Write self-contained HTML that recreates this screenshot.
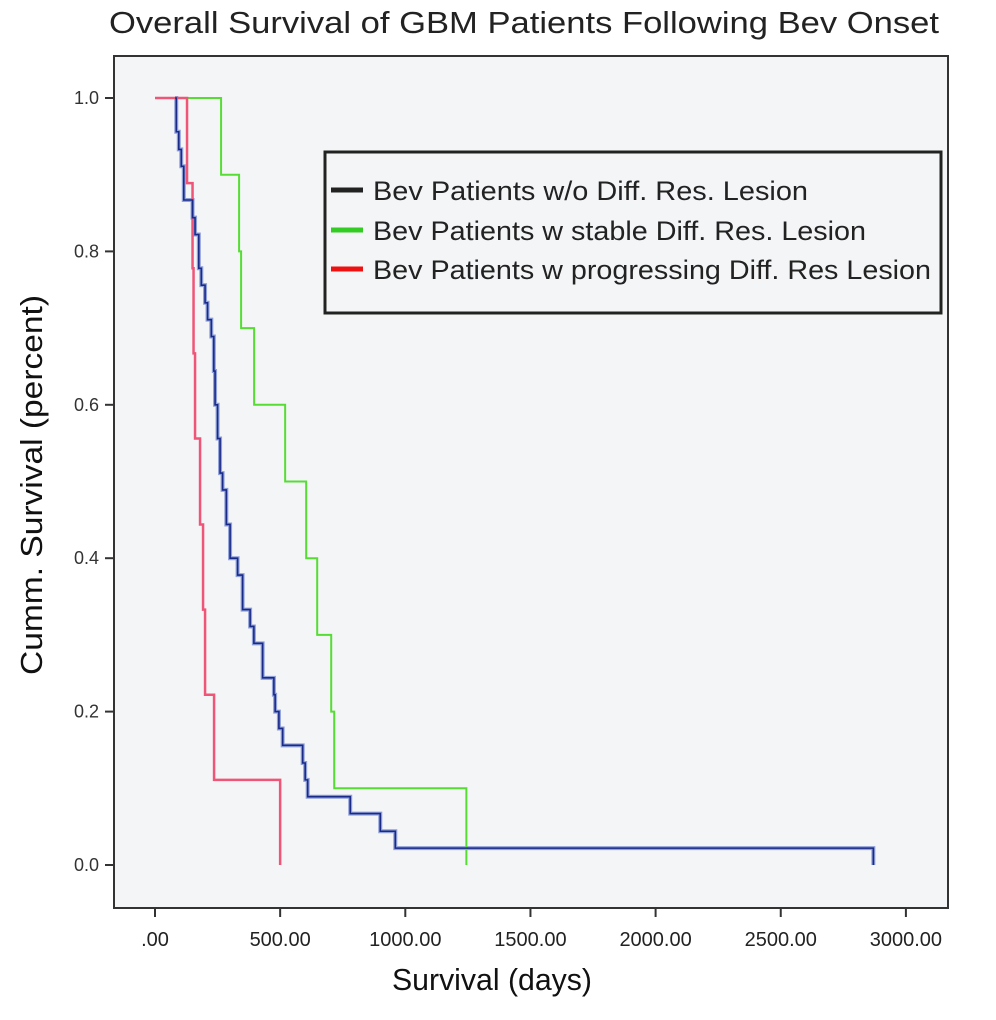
<!DOCTYPE html>
<html><head><meta charset="utf-8"><style>
body{margin:0;background:#fff}
svg{display:block;font-family:"Liberation Sans Narrow","Liberation Sans",sans-serif}
</style></head><body>
<svg id="chart" width="996" height="1020" viewBox="0 0 996 1020">
<text x="524" y="33" font-size="31" text-anchor="middle" fill="#222" textLength="830" lengthAdjust="spacingAndGlyphs">Overall Survival of GBM Patients Following Bev Onset</text>
<rect x="114" y="56" width="834" height="852" fill="#f4f5f7" stroke="#333" stroke-width="2"/>
<g id="yticks"></g><g id="xticks"></g>
<g id="series"></g>
<text transform="translate(42,485) rotate(-90)" font-size="31" text-anchor="middle" fill="#111" textLength="380" lengthAdjust="spacingAndGlyphs">Cumm. Survival (percent)</text>
<text x="492" y="990" font-size="31" text-anchor="middle" fill="#111" textLength="200" lengthAdjust="spacingAndGlyphs">Survival (days)</text>
<g>
<rect x="325" y="152" width="616" height="161" fill="#f4f5f7" stroke="#222" stroke-width="3"/>
<line x1="331" y1="190" x2="363" y2="190" stroke="#222" stroke-width="5"/>
<text x="373" y="200" font-size="27" fill="#222" textLength="435" lengthAdjust="spacingAndGlyphs">Bev Patients w/o Diff. Res. Lesion</text>
<line x1="331" y1="230" x2="363" y2="230" stroke="#33cc22" stroke-width="5"/>
<text x="373" y="240" font-size="27" fill="#222" textLength="493" lengthAdjust="spacingAndGlyphs">Bev Patients w stable Diff. Res. Lesion</text>
<line x1="331" y1="269" x2="363" y2="269" stroke="#ee1111" stroke-width="5"/>
<text x="373" y="279" font-size="27" fill="#222" textLength="558" lengthAdjust="spacingAndGlyphs">Bev Patients w progressing Diff. Res Lesion</text>
</g>
</svg>
<script>
const xTicks=[0,500,1000,1500,2000,2500,3000];
const xTickLabels=[".00","500.00","1000.00","1500.00","2000.00","2500.00","3000.00"];
const yTicks=[0,0.2,0.4,0.6,0.8,1.0];
const yTickLabels=["0.0","0.2","0.4","0.6","0.8","1.0"];
const blueStart=80;
const blueTimes=[85,95,105,115,150,160,175,185,200,210,225,235,240,250,260,270,285,300,330,350,380,395,430,475,480,495,510,590,600,610,780,900,960,2870];
const blueSurv=[0.956,0.933,0.911,0.867,0.844,0.822,0.778,0.756,0.733,0.711,0.689,0.644,0.6,0.556,0.511,0.489,0.444,0.4,0.378,0.333,0.311,0.289,0.244,0.222,0.2,0.178,0.156,0.133,0.111,0.089,0.067,0.044,0.022,0];
const greenStart=0;
const greenTimes=[264,336,344,396,520,604,648,704,716,1244];
const greenSurv=[0.9,0.8,0.7,0.6,0.5,0.4,0.3,0.2,0.1,0];
const redStart=0;
const redTimes=[128,150,154,160,180,192,200,236,500];
const redSurv=[0.889,0.778,0.667,0.556,0.444,0.333,0.222,0.111,0];

const X=d=>155+d*0.2503;
const Y=s=>865-s*767;
const NS="http://www.w3.org/2000/svg";
function mk(tag,attrs,parent){const e=document.createElementNS(NS,tag);for(const k in attrs)e.setAttribute(k,attrs[k]);parent.appendChild(e);return e;}
const yt=document.getElementById('yticks'),xt=document.getElementById('xticks'),sg=document.getElementById('series');
yTicks.forEach((v,i)=>{
  const l=mk('line',{x1:105,x2:114,y1:Y(v),y2:Y(v),stroke:'#333','stroke-width':2},yt);
  
  
  const t=mk('text',{x:99,y:Y(v)+6,'font-size':18,'text-anchor':'end',fill:'#333'},yt);
  t.textContent=yTickLabels[i];
  
  
});
xTicks.forEach((v,i)=>{
  const l=mk('line',{x1:X(v),x2:X(v),y1:908,y2:917,stroke:'#333','stroke-width':2},xt);
  
  
  const t=mk('text',{x:X(v),y:946,'font-size':20,'text-anchor':'middle',fill:'#222'},xt);
  t.textContent=xTickLabels[i];
  
  
});
function stepPath(start,times,surv){
  let d=`M${X(start)},${Y(1)}`;
  times.forEach((t,i)=>{d+=` H${X(t)} V${Y(surv[i])}`;});
  return d;
}
const pb=stepPath(blueStart,blueTimes,blueSurv);
const sh=mk('path',{d:pb,fill:'none',stroke:'#8fa0d8','stroke-width':4},sg);


const pg=mk('path',{d:stepPath(greenStart,greenTimes,greenSurv),fill:'none',stroke:'#55dd33','stroke-width':2},sg);


const pr=mk('path',{d:stepPath(redStart,redTimes,redSurv),fill:'none',stroke:'#ee5577','stroke-width':2.5},sg);


const pbl=mk('path',{d:pb,fill:'none',stroke:'#1a2a88','stroke-width':1.6},sg);


</script>
</body></html>
